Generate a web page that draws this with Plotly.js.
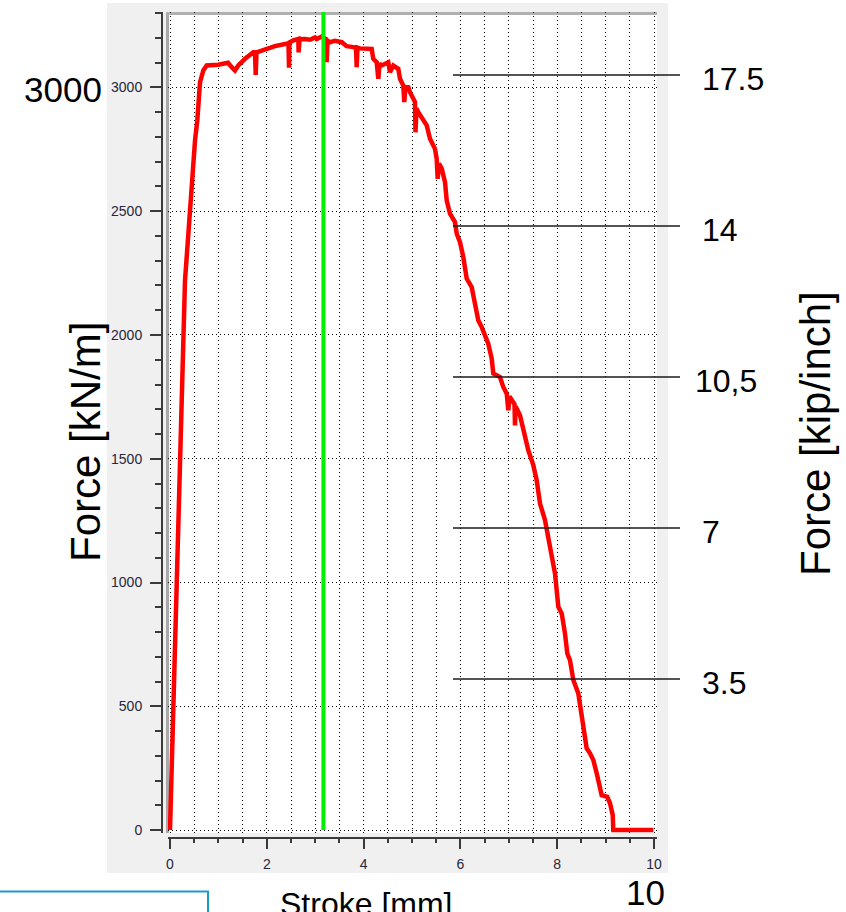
<!DOCTYPE html>
<html><head><meta charset="utf-8">
<script src="https://cdn.plot.ly/plotly-3.0.1.min.js"></script>
<style>html,body{margin:0;padding:0;background:#fff;}#chart{width:846px;height:912px;}</style>
</head><body><div id="chart"></div>
<script>
// ---- data ----
const strokeMm = [0.000,0.021,0.041,0.062,0.103,0.124,0.165,0.207,0.242,0.262,0.275,0.310,0.345,0.378,0.413,0.434,0.481,0.517,0.564,0.599,0.620,0.688,0.758,0.998,1.198,1.275,1.343,1.411,1.550,1.721,1.756,1.771,1.787,1.895,2.031,2.169,2.376,2.448,2.459,2.469,2.548,2.651,2.657,2.676,2.789,2.893,2.996,3.031,3.134,3.223,3.238,3.254,3.306,3.409,3.548,3.651,3.787,3.843,3.857,3.874,3.926,4.167,4.200,4.271,4.304,4.329,4.374,4.510,4.545,4.614,4.717,4.752,4.820,4.841,4.866,4.924,4.959,5.062,5.072,5.093,5.130,5.233,5.304,5.372,5.475,5.510,5.531,5.558,5.614,5.682,5.717,5.785,5.888,5.924,5.992,6.060,6.130,6.233,6.302,6.370,6.440,6.508,6.576,6.647,6.680,6.818,6.886,6.957,6.990,7.014,7.060,7.118,7.128,7.143,7.163,7.231,7.300,7.335,7.403,7.473,7.506,7.576,7.645,7.748,7.816,7.886,7.955,8.023,8.093,8.161,8.209,8.264,8.333,8.436,8.506,8.574,8.609,8.678,8.746,8.816,8.884,8.919,9.035,9.091,9.147,9.159,9.986];
const forceKNm = [0,161,343,444,727,929,1252,1534,1817,1951,2086,2221,2315,2409,2490,2564,2692,2786,2867,2988,3021,3069,3089,3092,3100,3082,3069,3089,3116,3142,3142,3051,3142,3149,3159,3167,3176,3178,3080,3182,3190,3196,3142,3195,3196,3193,3202,3196,3206,3196,3102,3189,3183,3189,3183,3167,3163,3161,3082,3161,3158,3156,3116,3102,3035,3096,3089,3102,3062,3089,3075,3035,3008,2941,3004,3001,2981,2941,2819,2915,2900,2873,2847,2793,2752,2712,2631,2693,2672,2618,2544,2490,2456,2409,2375,2315,2228,2194,2127,2059,2032,1992,1965,1905,1844,1830,1790,1763,1696,1752,1736,1720,1635,1712,1703,1676,1615,1602,1534,1494,1474,1413,1319,1252,1184,1103,1036,902,875,794,713,686,606,552,471,390,330,310,283,229,175,141,134,108,61,0,0];
const cursorStroke = [3.17, 3.17];
const cursorForce = [0, 3305];
const kipTicks = [3.5, 7, 10.5, 14, 17.5];
const kipLabels = ['3.5', '7', '10,5', '14', '17.5'];
const xAxisTitle = 'Stroke [mm]';
const yAxisTitle = 'Force [kN/m]';
const y2AxisTitle = 'Force [kip/inch]';
const bigYLabel = '3000';
const bigXLabel = '10';

// ---- layout geometry (pixels) ----
const L = 162, R = 657, T = 12, B = 838;
const PW = R - L, PH = B - T;
const px = v => (v - L) / PW;
const py = v => (B - v) / PH;
const FONT = 'Arial, "Liberation Sans", sans-serif';
const tickFont = {family: FONT, size: 14, color: '#26263e'};
const axisCol = '#3a3a3a';
const dotGrid = '1px,3px';
const kipLabelX = [700, 700, 693, 700, 700];

const traces = [
  {x: strokeMm, y: forceKNm, type: 'scatter', mode: 'lines',
   line: {color: '#ff0000', width: 4.5}, hoverinfo: 'skip', showlegend: false},
  {x: cursorStroke, y: cursorForce, type: 'scatter', mode: 'lines',
   line: {color: '#00f000', width: 4}, hoverinfo: 'skip', showlegend: false}
];

const shapes = [
  {type: 'rect', xref: 'paper', yref: 'paper', x0: px(107), x1: px(668), y0: py(873), y1: py(3),
   fillcolor: '#f0f0f0', line: {width: 0}, layer: 'below'},
  {type: 'rect', xref: 'paper', yref: 'paper', x0: px(168), x1: px(657), y0: py(833), y1: py(12),
   fillcolor: '#ffffff', line: {width: 0}, layer: 'below'},
  {type: 'line', xref: 'paper', yref: 'paper', x0: px(167.5), x1: px(167.5), y0: py(833), y1: py(12),
   line: {color: '#a8a8a8', width: 3}, layer: 'below'},
  {type: 'line', xref: 'paper', yref: 'paper', x0: px(166), x1: px(657), y0: py(13.5), y1: py(13.5),
   line: {color: '#b0b0b0', width: 3}, layer: 'below'},
  {type: 'rect', xref: 'paper', yref: 'paper', x0: px(-2), x1: px(208), y0: py(930), y1: py(891.5),
   fillcolor: '#ffffff', line: {color: '#1c9ccb', width: 2}}
];
kipTicks.forEach(k => shapes.push({type: 'line', xref: 'paper', yref: 'y2',
  x0: px(453), x1: px(680), y0: k, y1: k, line: {color: '#1a1a1a', width: 1.5}}));

const annotations = [];
kipTicks.forEach((k, i) => annotations.push({xref: 'paper', yref: 'y2', x: px(kipLabelX[i]), y: k,
  xanchor: 'left', yanchor: 'middle', yshift: -4, showarrow: false, text: kipLabels[i],
  font: {family: FONT, size: 32, color: '#000'}}));
annotations.push(
  {xref: 'paper', yref: 'paper', x: px(104), y: py(90), xanchor: 'right', yanchor: 'middle', showarrow: false,
   text: bigYLabel, font: {family: FONT, size: 35, color: '#000'}},
  {xref: 'paper', yref: 'paper', x: px(85), y: py(442), xanchor: 'center', yanchor: 'middle', textangle: -90,
   showarrow: false, text: yAxisTitle, font: {family: FONT, size: 42, color: '#000'}},
  {xref: 'paper', yref: 'paper', x: px(815), y: py(434), xanchor: 'center', yanchor: 'middle', textangle: -90,
   showarrow: false, text: y2AxisTitle, font: {family: FONT, size: 42, color: '#000'}},
  {xref: 'paper', yref: 'paper', x: px(366), y: py(884), xanchor: 'center', yanchor: 'top',
   showarrow: false, text: xAxisTitle, font: {family: FONT, size: 32, color: '#000'}},
  {xref: 'paper', yref: 'paper', x: px(645), y: py(893), xanchor: 'center', yanchor: 'middle',
   showarrow: false, text: bigXLabel, font: {family: FONT, size: 35, color: '#000'}}
);

const layout = {
  width: 846, height: 912,
  margin: {l: L, r: 846 - R, t: T, b: 912 - B, pad: 0},
  paper_bgcolor: '#ffffff', plot_bgcolor: 'rgba(0,0,0,0)',
  showlegend: false,
  xaxis: {
    domain: [px(168), 1], range: [-0.0413, 10.062], anchor: 'free', position: 0,
    showline: true, linecolor: axisCol, linewidth: 2, zeroline: false,
    tick0: 0, dtick: 2, ticks: 'outside', ticklen: 10, tickwidth: 2, tickcolor: axisCol,
    tickfont: tickFont, ticklabelstandoff: 3,
    showgrid: true, gridcolor: '#000', griddash: dotGrid, gridwidth: 1,
    minor: {tick0: 0, dtick: 0.5, ticks: 'outside', ticklen: 4, tickwidth: 2, tickcolor: axisCol,
            showgrid: true, gridcolor: '#000', griddash: dotGrid, gridwidth: 1},
    fixedrange: true
  },
  yaxis: {
    domain: [py(833), 1], range: [-12.1, 3305], anchor: 'free', position: 0,
    showline: true, linecolor: axisCol, linewidth: 2, zeroline: false,
    tick0: 0, dtick: 500, ticks: 'outside', ticklen: 11, tickwidth: 2, tickcolor: axisCol,
    tickfont: tickFont, ticklabelstandoff: 5,
    showgrid: true, gridcolor: '#000', griddash: dotGrid, gridwidth: 1,
    minor: {tick0: 0, dtick: 100, ticks: 'outside', ticklen: 6, tickwidth: 2, tickcolor: axisCol, showgrid: false},
    fixedrange: true
  },
  yaxis2: {
    domain: [py(833), 1], range: [-3 / 43.143, 818 / 43.143], overlaying: 'y', anchor: 'x',
    visible: false, showgrid: false, zeroline: false, fixedrange: true
  },
  shapes: shapes,
  annotations: annotations
};

Plotly.newPlot('chart', traces, layout, {staticPlot: true, displayModeBar: false});
</script>
</body></html>
